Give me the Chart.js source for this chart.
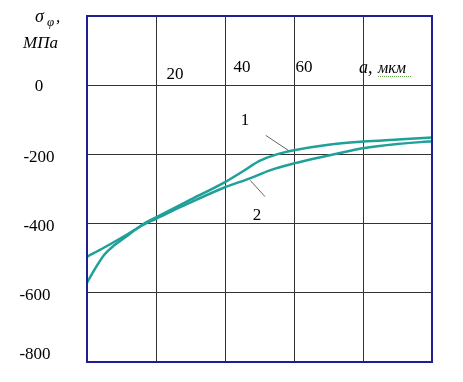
<!DOCTYPE html>
<html>
<head>
<meta charset="utf-8">
<script src="https://cdn.jsdelivr.net/npm/chart.js@4"></script>
<style>
  body { margin: 0; background: #fff; }
  canvas { display: block; }
</style>
</head>
<body>
<canvas id="chart" width="463" height="382"></canvas>
<script>
// данные (a, мкм -> σφ, МПа)
const curve1X = [0, 2, 5, 8, 11, 14, 17, 20, 30, 40, 45, 50, 55, 60, 70, 80, 90, 100];
const curve1Y = [-571, -536, -490, -462, -440, -418, -397, -382, -331, -280, -250, -219, -200, -188, -172, -163, -157, -151];
const curve2X = [0, 5, 11, 16, 20, 28, 40, 47, 53, 60, 70, 76, 80, 90, 100];
const curve2Y = [-496, -469, -435, -405, -386, -348, -295, -270, -246, -226, -203, -190, -182, -170, -162];
const xTickLabels = [20, 40, 60];
const yTickLabels = [0, -200, -400, -600, -800];
const xAxisName = 'a, мкм';
const curveNames = ['1', '2'];

const lineColor = '#1fa098';
const serif = '"Liberation Serif", "Times New Roman", serif';

function toPoints(xs, ys) {
    return xs.map((x, i) => ({ x: x, y: ys[i] }));
}

// подписи, рамка и выноски
const decorPlugin = {
    id: 'decor',
    afterDraw(chart) {
        const ctx = chart.ctx;
        const area = chart.chartArea;
        const xs = chart.scales.x;
        const ys = chart.scales.y;
        ctx.save();

        // рамка
        ctx.strokeStyle = '#1f1f8f';
        ctx.lineWidth = 2;
        ctx.strokeRect(area.left, area.top, area.right - area.left, area.bottom - area.top);

        ctx.fillStyle = '#000';

        // подписи оси y (как на рисунке: чуть ниже линий, нижняя выше)
        ctx.font = '17px ' + serif;
        ctx.textAlign = 'center';
        ctx.textBaseline = 'middle';
        yTickLabels.forEach(v => {
            let y = ys.getPixelForValue(v) + 3;
            if (v === 0) y -= 2;
            if (v === -800) y -= 10;
            const x = v <= -600 ? 35 : 39;
            ctx.fillText(String(v), x, y);
        });

        // подписи оси x внутри поля
        ctx.textBaseline = 'alphabetic';
        const dx = [19, 17, 10];
        const base = [79, 72, 72];
        xTickLabels.forEach((v, i) => {
            ctx.fillText(String(v), xs.getPixelForValue(v) + dx[i], base[i]);
        });

        // название оси x
        const parts = xAxisName.split(' ');
        ctx.textAlign = 'left';
        ctx.font = 'italic 18px ' + serif;
        ctx.fillText(parts[0], 359, 73);
        ctx.font = 'italic 16px ' + serif;
        ctx.fillText(parts[1], 378, 73);
        ctx.strokeStyle = '#6aa84f';
        ctx.lineWidth = 1;
        ctx.setLineDash([1, 1]);
        ctx.beginPath();
        ctx.moveTo(378, 76.5);
        ctx.lineTo(411, 76.5);
        ctx.stroke();
        ctx.setLineDash([]);

        // название оси y
        ctx.font = 'italic 18px ' + serif;
        ctx.fillText('σ', 35, 22);
        ctx.font = 'italic 13px ' + serif;
        ctx.fillText('φ', 47, 26);
        ctx.font = 'italic 17px ' + serif;
        ctx.fillText(',', 56, 22);
        ctx.fillText('МПа', 23, 48);

        // выноски кривых
        ctx.font = '17px ' + serif;
        ctx.textAlign = 'center';
        ctx.textBaseline = 'middle';
        ctx.fillText(curveNames[0], xs.getPixelForValue(45.8), ys.getPixelForValue(-101));
        ctx.fillText(curveNames[1], xs.getPixelForValue(49.3), ys.getPixelForValue(-377));
        ctx.strokeStyle = '#666';
        ctx.lineWidth = 1;
        ctx.beginPath();
        ctx.moveTo(xs.getPixelForValue(51.8), ys.getPixelForValue(-145));
        ctx.lineTo(xs.getPixelForValue(58.3), ys.getPixelForValue(-188));
        ctx.moveTo(xs.getPixelForValue(47.3), ys.getPixelForValue(-275));
        ctx.lineTo(xs.getPixelForValue(51.6), ys.getPixelForValue(-322));
        ctx.stroke();

        ctx.restore();
    }
};

new Chart(document.getElementById('chart'), {
    type: 'line',
    data: {
        datasets: [
            {
                label: curveNames[0],
                data: toPoints(curve1X, curve1Y),
                borderColor: lineColor,
                borderWidth: 2.5,
                pointRadius: 0,
                cubicInterpolationMode: 'monotone',
                fill: false
            },
            {
                label: curveNames[1],
                data: toPoints(curve2X, curve2Y),
                borderColor: lineColor,
                borderWidth: 2.5,
                pointRadius: 0,
                cubicInterpolationMode: 'monotone',
                fill: false
            }
        ]
    },
    options: {
        responsive: false,
        animation: false,
        layout: { padding: { top: 16, right: 31, left: 87, bottom: 20 } },
        plugins: {
            legend: { display: false },
            tooltip: { enabled: false }
        },
        scales: {
            x: {
                type: 'linear',
                min: 0,
                max: 100,
                ticks: { display: false, stepSize: 20 },
                grid: { color: '#333', lineWidth: 1, drawTicks: false },
                border: { display: false }
            },
            y: {
                min: -800,
                max: 200,
                ticks: { display: false, stepSize: 200 },
                grid: { color: '#333', lineWidth: 1, drawTicks: false },
                border: { display: false }
            }
        }
    },
    plugins: [decorPlugin]
});
</script>
</body>
</html>
